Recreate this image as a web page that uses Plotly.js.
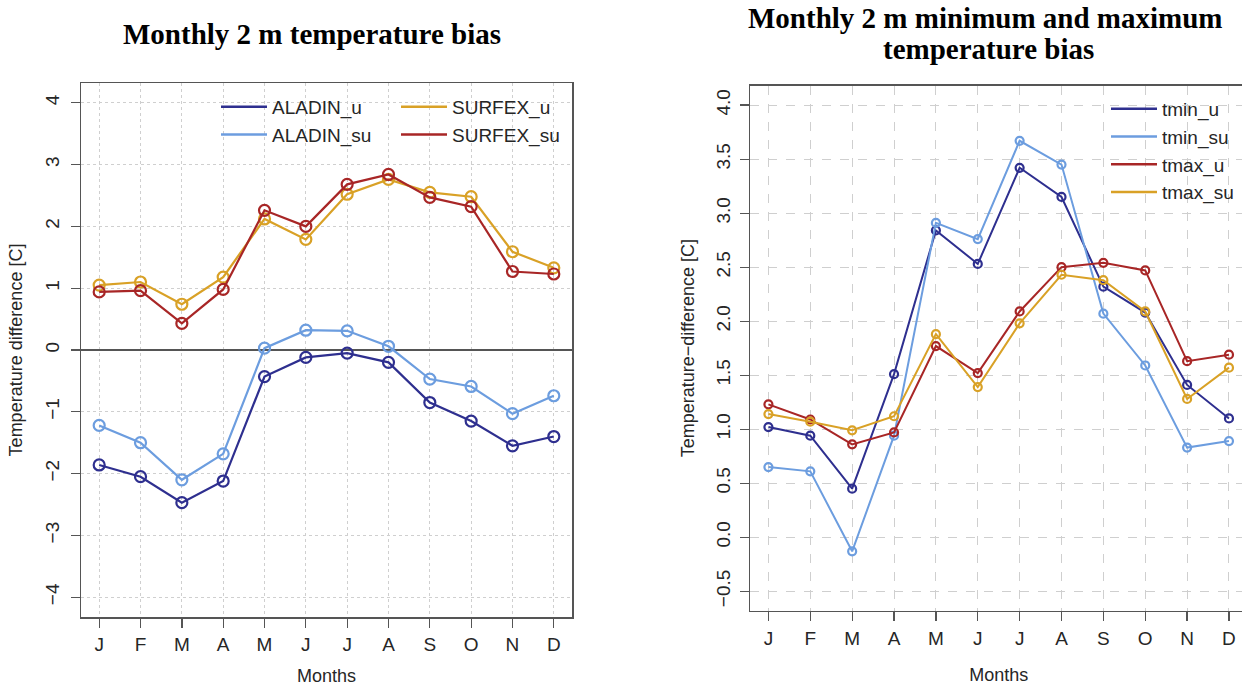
<!DOCTYPE html>
<html>
<head>
<meta charset="utf-8">
<script src="https://cdn.plot.ly/plotly-3.0.1.min.js"></script>
<style>
html,body{margin:0;padding:0;background:#fff;overflow:hidden;width:1242px;height:686px;}
#chart{width:1250px;height:686px;}
</style>
</head>
<body>
<div id="chart"></div>
<script>
const months = ['J','F','M','A','M','J','J','A','S','O','N','D'];
const monthNum = [1,2,3,4,5,6,7,8,9,10,11,12];

// Left chart: monthly 2 m temperature bias
const aladinU  = [-1.86,-2.05,-2.47,-2.12,-0.43,-0.12,-0.05,-0.20,-0.85,-1.15,-1.55,-1.40];
const aladinSU = [-1.22,-1.50,-2.10,-1.68, 0.03, 0.32, 0.31, 0.06,-0.47,-0.59,-1.03,-0.74];
const surfexU  = [1.05,1.10,0.74,1.18,2.12,1.79,2.52,2.76,2.55,2.48,1.59,1.33];
const surfexSU = [0.94,0.96,0.43,0.98,2.26,2.00,2.68,2.84,2.47,2.32,1.27,1.23];

// Right chart: monthly 2 m min / max temperature bias
const tminU  = [1.02,0.94,0.45,1.51,2.84,2.53,3.42,3.15,2.32,2.08,1.41,1.10];
const tminSU = [0.65,0.61,-0.13,0.94,2.91,2.76,3.67,3.45,2.07,1.59,0.83,0.89];
const tmaxU  = [1.23,1.09,0.86,0.97,1.77,1.52,2.09,2.50,2.54,2.47,1.63,1.69];
const tmaxSU = [1.14,1.07,0.99,1.12,1.88,1.39,1.98,2.43,2.38,2.09,1.28,1.57];

const leftTicks = [-4,-3,-2,-1,0,1,2,3,4];

const C_DARKBLUE = '#2e2f8f';
const C_LIGHTBLUE = '#6c9ddf';
const C_ORANGE = '#d9a126';
const C_RED = '#a82626';

const W = 1250, H = 686;
const px = v => v / W;
const py = v => 1 - v / H;

function series(y, color, xa, ya, size, lw) {
  return {x: monthNum, y: y, xaxis: xa, yaxis: ya, type: 'scatter', mode: 'lines+markers',
    line: {color: color, width: lw},
    marker: {symbol: 'circle-open', size: size, color: color, line: {color: color, width: 2.2}},
    showlegend: false, hoverinfo: 'x+y', cliponaxis: false};
}
function legendEntry(name, color, legend, xa, ya) {
  return {x: [null], y: [null], xaxis: xa, yaxis: ya, type: 'scatter', mode: 'lines', name: name,
    line: {color: color, width: 2.5}, legend: legend, showlegend: true};
}

const traces = [
  series(aladinU, C_DARKBLUE, 'x', 'y', 11, 2.2),
  series(aladinSU, C_LIGHTBLUE, 'x', 'y', 11, 2.2),
  series(surfexU, C_ORANGE, 'x', 'y', 11, 2.2),
  series(surfexSU, C_RED, 'x', 'y', 11, 2.2),
  series(tminU, C_DARKBLUE, 'x2', 'y2', 8, 2),
  series(tminSU, C_LIGHTBLUE, 'x2', 'y2', 8, 2),
  series(tmaxU, C_RED, 'x2', 'y2', 8, 2),
  series(tmaxSU, C_ORANGE, 'x2', 'y2', 8, 2),
  legendEntry('ALADIN_u', C_DARKBLUE, 'legend', 'x', 'y'),
  legendEntry('ALADIN_su', C_LIGHTBLUE, 'legend', 'x', 'y'),
  legendEntry('SURFEX_u', C_ORANGE, 'legend2', 'x', 'y'),
  legendEntry('SURFEX_su', C_RED, 'legend2', 'x', 'y'),
  legendEntry('tmin_u', C_DARKBLUE, 'legend3', 'x2', 'y2'),
  legendEntry('tmin_su', C_LIGHTBLUE, 'legend3', 'x2', 'y2'),
  legendEntry('tmax_u', C_RED, 'legend3', 'x2', 'y2'),
  legendEntry('tmax_su', C_ORANGE, 'legend3', 'x2', 'y2')
];

const FONT = 'Liberation Sans, Arial, Helvetica, sans-serif';
const TXT = '#262626';
const AX = '#555555';
const TITLEFONT = {family: 'Liberation Serif, Times New Roman, serif', size: 29, color: '#000'};

const baseX = {
  tickvals: monthNum, ticktext: months, range: [0.56, 12.44],
  showline: true, mirror: true, linecolor: AX, linewidth: 1.5,
  ticks: 'outside', ticklen: 9, tickcolor: AX, tickwidth: 1.3,
  tickfont: {family: FONT, size: 19, color: TXT},
  showgrid: true, gridcolor: '#cfcfcf', gridwidth: 1,
  zeroline: false, ticklabelstandoff: 1,
  title: {text: 'Months', font: {family: FONT, size: 18, color: TXT}, standoff: 20}
};

const legendBase = {xanchor: 'left', yanchor: 'top', bgcolor: 'rgba(0,0,0,0)', itemwidth: 46,
  font: {family: FONT, size: 19, color: TXT}, tracegroupgap: 0};

const layout = {
  width: W, height: H,
  margin: {l: 0, r: 0, t: 0, b: 0},
  paper_bgcolor: '#ffffff', plot_bgcolor: '#ffffff',
  font: {family: FONT, color: TXT},
  xaxis: Object.assign({}, baseX, {domain: [px(81), px(572)], anchor: 'y', griddash: 'dot'}),
  yaxis: {
    domain: [1 - 617/H, 1 - 83/H], anchor: 'x', range: [-4.32, 4.32],
    tickvals: leftTicks, tickangle: -90,
    showline: true, mirror: true, linecolor: AX, linewidth: 1.5,
    ticks: 'outside', ticklen: 9, tickcolor: AX, tickwidth: 1.3,
    tickfont: {family: FONT, size: 19, color: TXT}, ticklabelstandoff: 4,
    showgrid: true, gridcolor: '#cfcfcf', gridwidth: 1, griddash: 'dot',
    zeroline: true, zerolinecolor: '#555555', zerolinewidth: 1.5,
    title: {text: 'Temperature difference [C]', font: {family: FONT, size: 18, color: TXT}, standoff: 14}
  },
  xaxis2: Object.assign({}, baseX, {domain: [px(750), px(1247.4)], anchor: 'y2', griddash: 'dash'}),
  yaxis2: {
    domain: [1 - 610.7/H, 1 - 85.7/H], anchor: 'x2', range: [-0.68, 4.18],
    tick0: 0, dtick: 0.5, tickformat: '.1f', tickangle: -90,
    showline: true, mirror: true, linecolor: AX, linewidth: 1.5,
    ticks: 'outside', ticklen: 9, tickcolor: AX, tickwidth: 1.3,
    tickfont: {family: FONT, size: 19, color: TXT}, ticklabelstandoff: 2,
    showgrid: true, gridcolor: '#cfcfcf', gridwidth: 1, griddash: 'dash',
    zeroline: false,
    title: {text: 'Temperature\u2212difference [C]', font: {family: FONT, size: 18, color: TXT}, standoff: 13}
  },
  legend: Object.assign({}, legendBase, {x: px(216), y: py(88)}),
  legend2: Object.assign({}, legendBase, {x: px(396), y: py(88)}),
  legend3: Object.assign({}, legendBase, {x: px(1106), y: py(90)}),
  annotations: [
    {text: '<b>Monthly 2 m temperature bias</b>', xref: 'paper', yref: 'paper',
     x: px(311.5), y: py(34), xanchor: 'center', yanchor: 'middle', showarrow: false,
     font: TITLEFONT},
    {text: '<b>Monthly 2 m minimum and maximum</b>', xref: 'paper', yref: 'paper',
     x: px(985), y: py(18), xanchor: 'center', yanchor: 'middle', showarrow: false,
     font: TITLEFONT},
    {text: '<b>temperature bias</b>', xref: 'paper', yref: 'paper',
     x: px(988), y: py(49), xanchor: 'center', yanchor: 'middle', showarrow: false,
     font: TITLEFONT}
  ]
};

Plotly.newPlot('chart', traces, layout, {staticPlot: true, displayModeBar: false});
</script>
</body>
</html>
